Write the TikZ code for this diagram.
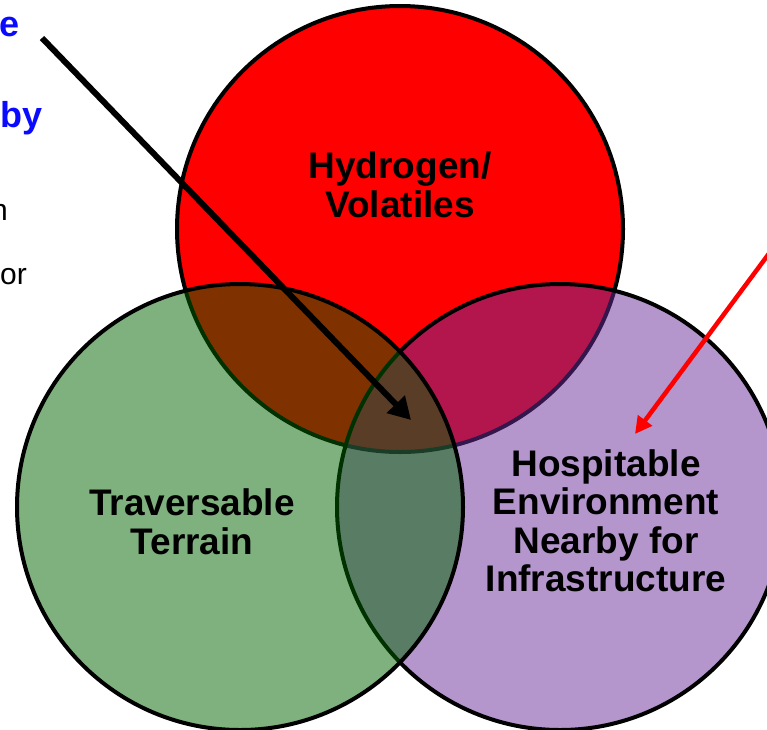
\documentclass[tikz,border=0pt]{standalone}
\usepackage{fontspec}
\setmainfont{Liberation Sans}
\usetikzlibrary{positioning,arrows.meta}
\definecolor{hydrored}{RGB}{255,0,0}
\definecolor{terraingreen}{RGB}{0,100,0}
\definecolor{infrapurple}{RGB}{105,45,155}
\definecolor{notesblue}{RGB}{10,10,255}
\tikzset{set node/.style={circle,draw=black,line width=4pt,minimum size=446pt,inner sep=0pt},
  label text/.style={font=\fontsize{37}{38.5}\selectfont\bfseries,align=center,text=black},
  blue note/.style={anchor=base east,inner sep=0pt,font=\fontsize{36}{38}\selectfont\bfseries,text=notesblue},
  plain note/.style={anchor=base east,inner sep=0pt,font=\fontsize{30}{32}\selectfont,text=black}}

\begin{document}
\begin{tikzpicture}[x=1pt,y=-1pt]
            \useasboundingbox (0,0) rectangle (767,729);
            \clip (0,0) rectangle (767,729);
            \node[set node, fill=hydrored] (H) at (400,229) {};
            \node[set node, fill=infrapurple, fill opacity=0.5] (P) at (560,507) {};
            \node[set node, fill=terraingreen, fill opacity=0.5] (T) at (240,507) {};

            \node[label text] (Hlabel) at (400,185) {Hydrogen/\\Volatiles};
            \node[label text] (Tlabel) at (192,522) {Traversable\\Terrain};
            \node[label text] (Plabel) at (606,521) {Hospitable\\Environment\\Nearby for\\Infrastructure};

            \node[blue note] (n1) at (20,36) {e};
            \node[blue note] (n2) at (43,127) {by};
            \node[plain note] (n3) at (8,220) {n};
            \node[plain note] (n4) at (27,284) {or};

            \coordinate (bstart) at (42,38);
            \coordinate (btip) at (411,420);
            \coordinate (rstart) at (782,236);
            \coordinate (rtip) at (635,434);

            \draw[line width=6pt, -{Triangle[length=22pt,width=24pt]}] (bstart) -- (btip);
            \draw[line width=4.5pt, draw=hydrored, -{Triangle[length=17pt,width=17pt]}] (rstart) -- (rtip);
        \end{tikzpicture}
\end{document}
